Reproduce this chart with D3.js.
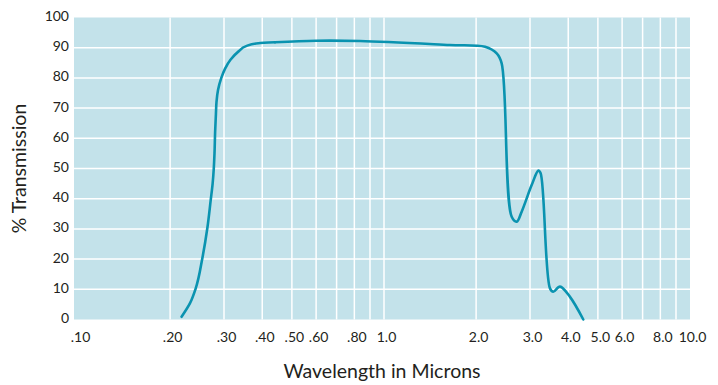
<!DOCTYPE html>
<html>
<head>
<meta charset="utf-8">
<script src="https://cdn.jsdelivr.net/npm/d3@7"></script>
<style>
  html, body { margin: 0; padding: 0; background: #ffffff; }
  svg { display: block; }
  text { font-family: Lato, "Open Sans", sans-serif; fill: #231f20; }
</style>
</head>
<body>
<svg id="chart" width="718" height="385"></svg>
<script>
// ---- data ----
const wavelength = [0.218, 0.2323, 0.2425, 0.2549, 0.2646, 0.2715, 0.2754, 0.2778, 0.2793, 0.2806, 0.2823, 0.2835,
                    0.2868, 0.2940, 0.3022, 0.3150, 0.3341, 0.3559, 0.3884, 0.4403, 0.60, 0.835, 1.64, 2.14, 2.335,
                    2.424, 2.614, 2.715, 2.818, 3.038, 3.194, 3.25, 3.487, 3.575, 3.76, 4.053, 4.48];
const transmission = [0.9, 5.4, 10.3, 20.3, 30.2, 39.6, 45.0, 50.0, 55.0, 62.0, 68.0, 72.0,
                      76.0, 80.0, 83.0, 86.0, 88.7, 90.6, 91.5, 91.8, 92.3, 92.2, 90.9, 90.3, 88.1,
                      84.8, 34.0, 32.4, 35.7, 44.5, 49.3, 48.4, 10.3, 9.2, 10.9, 7.5, 0];
const xTickValues = [0.1, 0.2, 0.3, 0.4, 0.5, 0.6, 0.8, 1, 2, 3, 4, 5, 6, 8, 10];
const xTickLabels = [".10", ".20", ".30", ".40", ".50", ".60", ".80", "1.0", "2.0", "3.0", "4.0", "5.0", "6.0", "8.0", "10.0"];
const xGridValues = [0.2, 0.3, 0.4, 0.5, 0.6, 0.7, 0.8, 0.9, 1, 2, 3, 4, 5, 6, 7, 8, 9];
const yTickValues = [0, 10, 20, 30, 40, 50, 60, 70, 80, 90, 100];
const yGridValues = [10, 20, 30, 40, 50, 60, 70, 80, 90];

const svg = d3.select("#chart");
const x = d3.scaleLog().domain([0.1, 10]).range([78, 690]);
const y = d3.scaleLinear().domain([0, 100]).range([319.5, 17.5]);

// plot background
svg.append("rect")
  .attr("x", 74).attr("y", y(100))
  .attr("width", x(10) - 74).attr("height", y(0) - y(100))
  .attr("fill", "#c3e2ea");

// grid
svg.append("g").selectAll("line").data(xGridValues).join("line")
  .attr("x1", d => x(d)).attr("x2", d => x(d))
  .attr("y1", y(100)).attr("y2", y(0))
  .attr("stroke", "#ffffff").attr("stroke-width", 1.5);
svg.append("g").selectAll("line").data(yGridValues).join("line")
  .attr("x1", 74).attr("x2", x(10))
  .attr("y1", d => y(d)).attr("y2", d => y(d))
  .attr("stroke", "#ffffff").attr("stroke-width", 1.5);

// y axis
const yAxis = d3.axisLeft(y).tickValues(yTickValues).tickSize(0).tickPadding(0).tickFormat(d3.format("d"));
const gy = svg.append("g").attr("transform", "translate(69,-1.5)").call(yAxis);
gy.select(".domain").remove();
gy.selectAll("text").style("font-size", "14px").style("font-family", "Lato, sans-serif").attr("fill", "#231f20");

// x axis
const xAxis = d3.axisBottom(x).tickValues(xTickValues).tickSize(0).tickPadding(0)
  .tickFormat((d, i) => xTickLabels[i]);
const gx = svg.append("g").attr("transform", "translate(2,332)").call(xAxis);
gx.select(".domain").remove();
gx.selectAll("text").style("font-size", "14px").style("font-family", "Lato, sans-serif").attr("fill", "#231f20");

// curve: rising edge is monotone in transmission, rest drawn with a centripetal spline
const pts = wavelength.map((w, i) => [w, transmission[i]]);
const riseEnd = transmission.indexOf(d3.max(transmission.slice(0, 20)));
const riseLine = d3.line().x(d => x(d[0])).y(d => y(d[1])).curve(d3.curveMonotoneY);
const restLine = d3.line().x(d => x(d[0])).y(d => y(d[1])).curve(d3.curveCatmullRom.alpha(0.5));
const curveG = svg.append("g")
  .attr("fill", "none")
  .attr("stroke", "#0a93b0")
  .attr("stroke-width", 2.6)
  .attr("stroke-linecap", "round")
  .attr("stroke-linejoin", "round");
curveG.append("path").attr("d", riseLine(pts.slice(0, riseEnd + 1)));
curveG.append("path").attr("d", restLine(pts.slice(riseEnd)));

// titles
svg.append("text")
  .attr("x", (74 + 690) / 2).attr("y", 378)
  .attr("text-anchor", "middle")
  .style("font-size", "19.5px")
  .text("Wavelength in Microns");
svg.append("text")
  .attr("transform", "translate(26," + ((y(0) + y(100)) / 2) + ") rotate(-90)")
  .attr("text-anchor", "middle")
  .style("font-size", "19.5px")
  .text("% Transmission");
</script>
</body>
</html>
